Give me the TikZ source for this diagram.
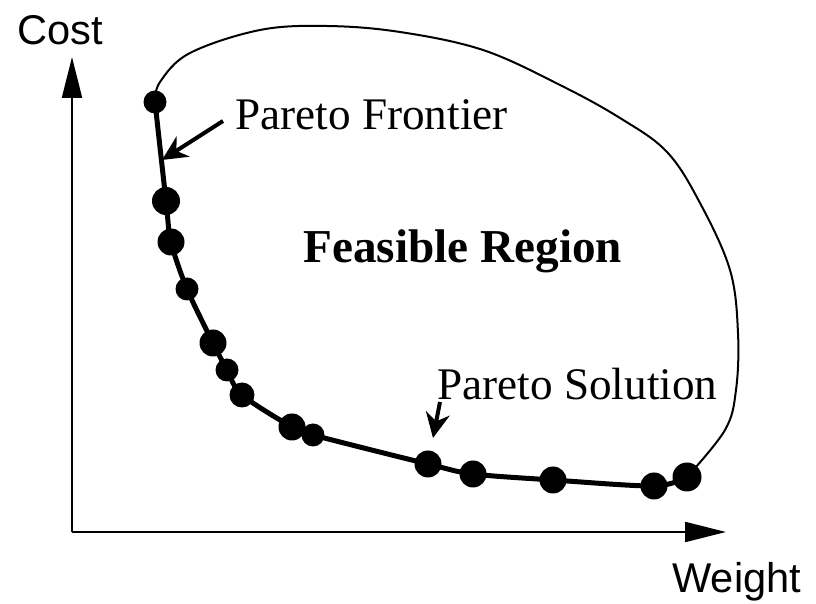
\documentclass[tikz,border=0pt]{standalone}
\usepackage{fontspec}
\setmainfont{Liberation Serif}
\setsansfont{Liberation Sans}
\usepackage{tikz}
\usetikzlibrary{arrows.meta,positioning,calc}
\tikzset{
  paretoDot/.style={
    circle,
    fill=black,
    inner sep=0pt,
    minimum size=#1
  },
  paretoDot/.default=13pt,
  frontierLine/.style={
    line width=2.5pt,
    draw=black
  },
  regionLine/.style={
    line width=1pt,
    draw=black
  },
  axisArrow/.style={
    -{Triangle[length=20.5pt,width=10pt]},
    line width=1pt,
    draw=black
  },
  labelArrow/.style={
    -{Stealth[length=12.5pt,width=12pt,inset=4pt]},
    line width=2pt,
    draw=black
  },
  serifLabel/.style={
    anchor=base west,
    inner sep=0pt,
    font=\fontsize{22.6pt}{26pt}\selectfont
  },
  axisLabel/.style={
    anchor=base west,
    inner sep=0pt,
    font=\sffamily\fontsize{20.8pt}{24pt}\selectfont
  }
}

\begin{document}
\begin{tikzpicture}[x=0.5pt,y=-0.5pt]
  \useasboundingbox (0,0) rectangle (816,604);
  % axes
  \coordinate (origin) at (72,532);
  \coordinate (costTip) at (72,57);
  \coordinate (weightTip) at (726,532);
  \draw[axisArrow] (origin) -- (costTip);
  \draw[axisArrow] (origin) -- (weightTip);
  \node[axisLabel] (cost) at (17,45) {Cost};
  \node[axisLabel] (weight) at (672,593) {Weight};
  % Pareto points
  \node[paretoDot=11.5pt] (d1) at (155,102) {};
  \node[paretoDot=14pt] (d2) at (166,201) {};
  \node[paretoDot=13.5pt] (d3) at (171,242) {};
  \node[paretoDot=11.5pt] (d4) at (187,289) {};
  \node[paretoDot=13.5pt] (d5) at (213,343) {};
  \node[paretoDot=11.5pt] (d6) at (227,370) {};
  \node[paretoDot=12.5pt] (d7) at (242,395) {};
  \node[paretoDot=13.5pt] (d8) at (292,427) {};
  \node[paretoDot=11.5pt] (d9) at (313,435) {};
  \node[paretoDot=13.5pt] (d10) at (428,464) {};
  \node[paretoDot=13.5pt] (d11) at (473,474) {};
  \node[paretoDot=13.5pt] (d12) at (553,480) {};
  \node[paretoDot=13.5pt] (d13) at (654,486) {};
  \node[paretoDot=14.5pt] (d14) at (687,477) {};
  \draw[frontierLine] plot[smooth,tension=0.5] coordinates {
    (d1.center) (d2.center) (d3.center) (d4.center) (d5.center)
    (d6.center) (d7.center) (d8.center) (d9.center) (d10.center)
    (d11.center) (d12.center) (d13.center) (d14.center)};
  % feasible region boundary
  \draw[regionLine] plot[smooth,tension=0.6] coordinates {
    (d1.center) (160,82) (190,53) (260,30) (327,26) (400,32) (483,50)
    (560,85) (620,118) (667,152) (700,203) (730,270) (738,333)
    (736,390) (725,430) (d14.center)};
  % labels
  \node[serifLabel] (frontier) at (235,130) {Pareto Frontier};
  \node[serifLabel,font=\bfseries\fontsize{23.6pt}{27pt}\selectfont] (region) at (303,263) {Feasible Region};
  \node[serifLabel] (solution) at (437,400) {Pareto Solution};
  \coordinate (frontierTail) at (223,121);
  \coordinate (frontierHead) at (162,160);
  \coordinate (solutionTail) at (440,402);
  \coordinate (solutionHead) at (433,438);
  \draw[labelArrow] (frontierTail) -- (frontierHead);
  \draw[labelArrow] (solutionTail) -- (solutionHead);
\end{tikzpicture}
\end{document}
